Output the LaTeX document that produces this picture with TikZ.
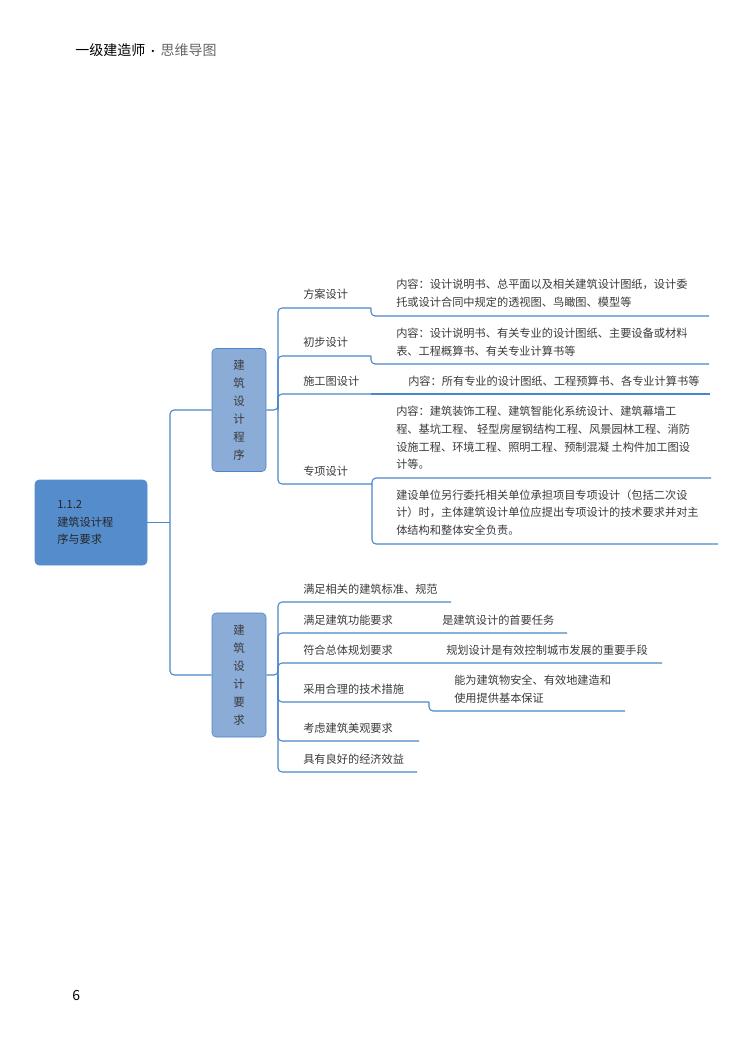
\documentclass[tikz,border=0pt]{standalone}
\usepackage{fontspec}
\setmainfont{Noto Sans CJK SC}
\definecolor{lineblue}{HTML}{4A86C8}
\definecolor{rootfill}{HTML}{558CCB}
\definecolor{boxfill}{HTML}{8BACD6}
\definecolor{txt}{HTML}{3A3A3A}
\definecolor{hgray}{HTML}{666666}
\begin{document}
\begin{tikzpicture}[x=0.75pt,y=-0.75pt,
  conn/.style={draw=lineblue,line width=0.8pt,rounded corners=3pt},
  lbl/.style={anchor=west,inner sep=0pt,text=txt,font=\fontsize{8.4pt}{13.2pt}\selectfont,align=left},
  rootbox/.style={draw=rootfill,fill=rootfill,rounded corners=3pt,minimum width=84pt,minimum height=63.75pt,inner sep=0pt},
  subbox/.style={draw=lineblue,fill=boxfill,rounded corners=3pt,minimum width=40.5pt,inner sep=0pt,text=txt,font=\fontsize{8.6pt}{13.5pt}\selectfont,align=center}]
\useasboundingbox (0,0) rectangle (755,1052);
% header
\node[anchor=west,inner sep=0pt,font=\fontsize{10.5pt}{12pt}\selectfont] (hdr) at (75,50) {一级建造师\,{\fontsize{8pt}{10pt}\selectfont·}\,\textcolor{hgray}{思维导图}};
\node[anchor=west,inner sep=0pt,font=\fontsize{10.5pt}{12pt}\selectfont] (pg) at (72,995) {6};
% root
\node[rootbox] (root) at (91,522.5) {};
\node[lbl,text=black!85] (roott) at (57,522.5) {1.1.2\\建筑设计程\\序与要求};
% sub boxes
\node[subbox,minimum height=92.25pt] (b1) at (239,410) {建\\筑\\设\\计\\程\\序};
\node[subbox,minimum height=93pt] (b2) at (239,675) {建\\筑\\设\\计\\要\\求};
% root connectors
\coordinate (rj) at (170,522.5);
\draw[conn] (root.east) -- (rj);
\draw[conn] (b1.west) -- (170,410) -- (170,675) -- (b2.west);
% ---- branch 1 ----
\coordinate (j1) at (278,410);
\node[lbl] (fa) at (303,294) {方案设计};
\node[lbl] (cb) at (303,342) {初步设计};
\node[lbl] (sg) at (303,381) {施工图设计};
\node[lbl] (zx) at (303,471) {专项设计};
\coordinate (fae) at (371,308);
\coordinate (cbe) at (371,356);
\coordinate (sge) at (371,394);
\coordinate (zxe) at (372,484);
\draw[conn] (b1.east) -- (j1) -- (278,308) -- (fae);
\draw[conn] (j1) -- (278,356) -- (cbe);
\draw[conn] (j1) -- (278,394) -- (sge);
\draw[conn] (j1) -- (278,484) -- (zxe);
\node[lbl] (fac) at (396,293.5) {内容：设计说明书、总平面以及相关建筑设计图纸，设计委\\托或设计合同中规定的透视图、鸟瞰图、模型等};
\node[lbl] (cbc) at (396,342) {内容：设计说明书、有关专业的设计图纸、主要设备或材料\\表、工程概算书、有关专业计算书等};
\node[lbl] (sgc) at (408,381) {内容：所有专业的设计图纸、工程预算书、各专业计算书等};
\node[lbl] (zxc1) at (396,438) {内容：建筑装饰工程、建筑智能化系统设计、建筑幕墙工\\程、基坑工程、 轻型房屋钢结构工程、风景园林工程、消防\\设施工程、环境工程、照明工程、预制混凝 土构件加工图设\\计等。};
\node[lbl] (zxc2) at (396,512.5) {建设单位另行委托相关单位承担项目专项设计（包括二次设\\计）时，主体建筑设计单位应提出专项设计的技术要求并对主\\体结构和整体安全负责。};
\draw[conn] (fae) -- (371,316) -- (709,316);
\draw[conn] (cbe) -- (371,364) -- (709,364);
\draw[conn] (sge) -- (710,394);
\draw[conn] (zxe) -- (372,478) -- (711,478);
\draw[conn] (zxe) -- (372,544) -- (718,544);
% ---- branch 2 ----
\coordinate (j2) at (278,675);
\node[lbl] (r1) at (303,589) {满足相关的建筑标准、规范};
\node[lbl] (r2) at (303,620) {满足建筑功能要求};
\node[lbl] (r3) at (303,650) {符合总体规划要求};
\node[lbl] (r4) at (303,689) {采用合理的技术措施};
\node[lbl] (r5) at (303,728) {考虑建筑美观要求};
\node[lbl] (r6) at (303,759) {具有良好的经济效益};
\node[lbl] (r2c) at (442,620) {是建筑设计的首要任务};
\node[lbl] (r3c) at (446,650) {规划设计是有效控制城市发展的重要手段};
\node[lbl] (r4c) at (454,689) {能为建筑物安全、有效地建造和\\使用提供基本保证};
\coordinate (r4e) at (429,702);
\draw[conn] (b2.east) -- (j2) -- (278,602) -- (451,602);
\draw[conn] (j2) -- (278,633) -- (567,633);
\draw[conn] (j2) -- (278,663) -- (662,663);
\draw[conn] (j2) -- (278,702) -- (r4e);
\draw[conn] (j2) -- (278,741) -- (419,741);
\draw[conn] (j2) -- (278,772) -- (417,772);
\draw[conn] (r4e) -- (429,711) -- (625,711);
\end{tikzpicture}
\end{document}
